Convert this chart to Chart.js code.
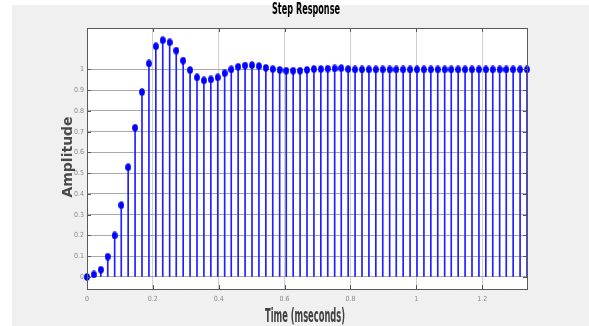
<!DOCTYPE html>
<html>
<head>
<meta charset="utf-8">
<script src="https://cdn.jsdelivr.net/npm/chart.js@4.4.1/dist/chart.umd.min.js"></script>
<style>
  html, body { margin: 0; padding: 0; background: #fff; }
  canvas { display: block; }
</style>
</head>
<body>
<canvas id="stepChart" width="589" height="326"></canvas>
<script>
// sample times (ms) and step response amplitude
const times = [0, 0.021, 0.042, 0.063, 0.084, 0.104, 0.125, 0.146, 0.167, 0.188,
  0.209, 0.230, 0.251, 0.271, 0.292, 0.313, 0.334, 0.355, 0.376, 0.397,
  0.418, 0.438, 0.459, 0.480, 0.501, 0.522, 0.543, 0.564, 0.585, 0.605,
  0.626, 0.647, 0.668, 0.689, 0.710, 0.731, 0.752, 0.772, 0.793, 0.814,
  0.835, 0.856, 0.877, 0.898, 0.919, 0.939, 0.960, 0.981, 1.002, 1.023,
  1.044, 1.065, 1.086, 1.106, 1.127, 1.148, 1.169, 1.190, 1.211, 1.232,
  1.253, 1.273, 1.294, 1.315, 1.336];
const amplitude = [0, 0.012, 0.035, 0.098, 0.2, 0.346, 0.529, 0.719, 0.891, 1.029,
  1.112, 1.141, 1.131, 1.091, 1.043, 0.997, 0.962, 0.947, 0.952, 0.962,
  0.982, 1.0, 1.013, 1.019, 1.021, 1.016, 1.008, 1.002, 0.998, 0.994,
  0.994, 0.994, 0.998, 1.002, 1.002, 1.004, 1.005, 1.006, 1.002, 1.0,
  1.0, 1.0, 1.0, 1.0, 1.0, 1.0, 1.0, 1.0, 1.0, 1.0,
  1.0, 1.0, 1.0, 1.0, 1.0, 1.0, 1.0, 1.0, 1.0, 1.0,
  1.0, 1.0, 1.0, 1.0, 1.0];
const xTicks = [0, 0.2, 0.4, 0.6, 0.8, 1, 1.2];
const yTicks = [0, 0.1, 0.2, 0.3, 0.4, 0.5, 0.6, 0.7, 0.8, 0.9, 1];

const points = times.map((t, i) => ({ x: t, y: amplitude[i] }));

// slightly tall marker like the original
const marker = document.createElement("canvas");
marker.width = 6;
marker.height = 8;
const mctx = marker.getContext("2d");
mctx.fillStyle = "#0000ff";
mctx.beginPath();
mctx.ellipse(3, 4, 2.9, 3.8, 0, 0, Math.PI * 2);
mctx.fill();

const tickFont = { family: "'Liberation Sans Narrow', 'DejaVu Sans Condensed', sans-serif", size: 7 };

function squeezedText(ctx, text, cx, baseline, font, color, targetWidth) {
  ctx.save();
  ctx.font = font;
  ctx.fillStyle = color;
  const w = ctx.measureText(text).width;
  const sx = targetWidth / w;
  ctx.translate(cx, baseline);
  ctx.scale(sx, 1);
  ctx.textAlign = "center";
  ctx.textBaseline = "alphabetic";
  ctx.fillText(text, 0, 0);
  ctx.restore();
}

const decor = {
  id: "decor",
  beforeDraw(chart) {
    const { ctx, chartArea: a } = chart;
    ctx.save();
    ctx.fillStyle = "#ffffff";
    ctx.fillRect(0, 0, chart.width, chart.height);
    ctx.fillStyle = "#f0f0f0";
    ctx.fillRect(12, 5, chart.width - 12, chart.height - 5);
    ctx.fillStyle = "#ffffff";
    ctx.fillRect(a.left, a.top, a.right - a.left, a.bottom - a.top);
    ctx.restore();
  },
  afterDraw(chart) {
    const { ctx, chartArea: a } = chart;
    const xs = chart.scales.x, ys = chart.scales.y;
    ctx.save();
    ctx.strokeStyle = "#555555";
    ctx.lineWidth = 1;
    ctx.beginPath();
    xTicks.forEach(v => {
      const px = Math.round(xs.getPixelForValue(v)) + 0.5;
      ctx.moveTo(px, a.top); ctx.lineTo(px, a.top + 4);
      ctx.moveTo(px, a.bottom); ctx.lineTo(px, a.bottom - 4);
    });
    yTicks.forEach(v => {
      const py = Math.round(ys.getPixelForValue(v)) + 0.5;
      ctx.moveTo(a.left, py); ctx.lineTo(a.left + 4, py);
      ctx.moveTo(a.right, py); ctx.lineTo(a.right - 4, py);
    });
    ctx.stroke();
    ctx.strokeStyle = "#5a5a5a";
    ctx.strokeRect(Math.round(a.left) + 0.5, Math.round(a.top) + 0.5,
      Math.round(a.right - a.left), Math.round(a.bottom - a.top));
    ctx.restore();

    squeezedText(ctx, "Step Response", 306, 14, "bold 15px 'DejaVu Sans'", "#000000", 68);
    squeezedText(ctx, "Time (mseconds)", 305, 322, "bold 20px 'DejaVu Sans'", "#404040", 80);

    ctx.save();
    ctx.translate(68, 157);
    ctx.rotate(-Math.PI / 2);
    ctx.font = "bold 14px 'DejaVu Sans'";
    ctx.fillStyle = "#4a4a4a";
    ctx.textAlign = "center";
    ctx.textBaseline = "middle";
    ctx.fillText("Amplitude", 0, 0);
    ctx.restore();
  }
};

new Chart(document.getElementById("stepChart"), {
  data: {
    datasets: [
      {
        type: "bar",
        data: points,
        backgroundColor: "#1f1fff",
        borderWidth: 0,
        barThickness: 1,
        clip: false,
        order: 2
      },
      {
        type: "line",
        data: points,
        showLine: false,
        pointStyle: marker,
        pointRadius: 4,
        pointHoverRadius: 4,
        clip: false,
        order: 1
      }
    ]
  },
  options: {
    responsive: false,
    animation: false,
    devicePixelRatio: 1,
    layout: { padding: { top: 28, right: 62, left: 0, bottom: 0 } },
    plugins: {
      legend: { display: false },
      title: { display: false },
      tooltip: { enabled: false }
    },
    scales: {
      x: {
        type: "linear",
        min: 0,
        max: 1.336,
        offset: false,
        afterBuildTicks: s => { s.ticks = xTicks.map(v => ({ value: v })); },
        afterFit: s => { s.height = 37; },
        grid: { color: "#cfcfcf", drawTicks: false, offset: false },
        border: { display: false },
        ticks: {
          font: tickFont,
          color: "#8a8a8a",
          padding: 6,
          maxRotation: 0,
          callback: v => String(Math.round(v * 10) / 10)
        }
      },
      y: {
        type: "linear",
        min: -0.058,
        max: 1.2,
        afterBuildTicks: s => { s.ticks = yTicks.map(v => ({ value: v })); },
        afterFit: s => { s.width = 87; },
        grid: { color: "#a9a9a9", drawTicks: false },
        border: { display: false },
        ticks: {
          font: tickFont,
          color: "#8a8a8a",
          padding: 3,
          callback: v => String(Math.round(v * 10) / 10)
        }
      }
    }
  },
  plugins: [decor]
});
</script>
</body>
</html>
